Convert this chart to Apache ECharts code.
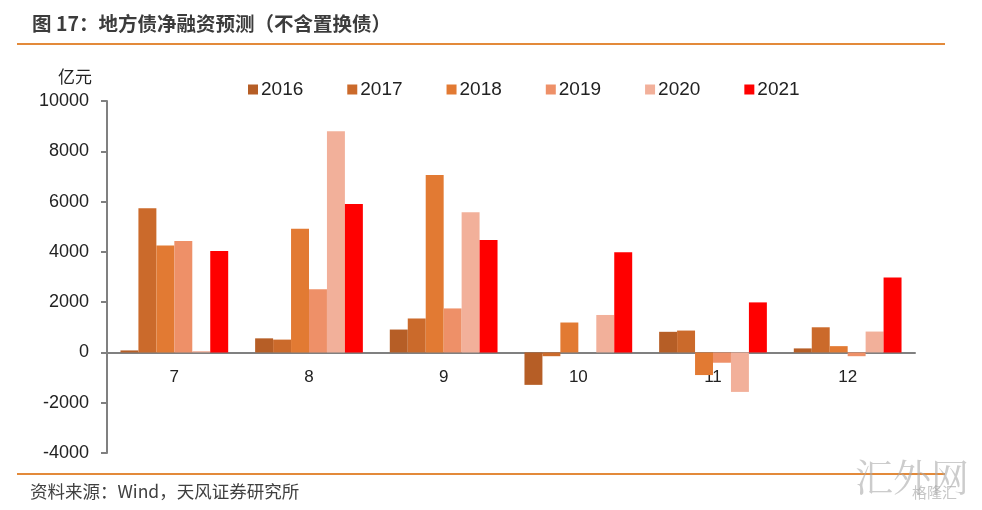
<!DOCTYPE html>
<html>
<head>
<meta charset="utf-8">
<script src="https://cdn.jsdelivr.net/npm/echarts@6/dist/echarts.min.js"></script>
<style>html,body{margin:0;padding:0;background:#fff;}#c{width:982px;height:510px;}</style>
</head>
<body>
<div id="c"></div>
<script>
const categories = ['7', '8', '9', '10', '11', '12'];
const years = ['2016', '2017', '2018', '2019', '2020', '2021'];
const v2016 = [80, 560, 910, -1290, 820, 160];
const v2017 = [5730, 510, 1350, -150, 870, 1000];
const v2018 = [4250, 4920, 7060, 1190, -900, 250];
const v2019 = [4430, 2510, 1750, 0, -410, -150];
const v2020 = [50, 8800, 5580, 1490, -1570, 830];
const v2021 = [4030, 5900, 4470, 3980, 1990, 2980];
const yTicks = [-4000, -2000, 0, 2000, 4000, 6000, 8000, 10000];
const seriesValues = [v2016, v2017, v2018, v2019, v2020, v2021];
const colors = ['#B65E26', '#CB6A2B', '#E27A33', '#EE9068', '#F2B09A', '#FF0000'];

const chart = echarts.init(document.getElementById('c'));
const textFont = 'Liberation Sans, Arial, sans-serif';
const cjkFont = '"Noto Sans CJK SC", sans-serif';
const gridTop = 101, gridBottom = 57, chartH = 510;
const plotH = chartH - gridTop - gridBottom;
const zeroOffset = -plotH * (0 - yTicks[0]) / (yTicks[yTicks.length - 1] - yTicks[0]);
chart.setOption({
  animation: false,
  backgroundColor: '#fff',
  color: colors,
  grid: { left: 107, right: 67, top: gridTop, bottom: gridBottom, containLabel: false },
  legend: {
    data: years,
    left: 243, top: 75,
    itemWidth: 10, itemHeight: 10, itemGap: 44,
    icon: 'rect',
    textStyle: { fontSize: 19, color: '#222', fontFamily: textFont, padding: [0, 0, 0, -2] }
  },
  xAxis: {
    type: 'category',
    data: categories,
    position: 'bottom',
    offset: zeroOffset,
    axisLine: { onZero: false, lineStyle: { color: '#808080', width: 2 } },
    axisTick: { show: false },
    axisLabel: { fontSize: 17, color: '#222', fontFamily: textFont, margin: 16 }
  },
  yAxis: {
    type: 'value',
    min: yTicks[0], max: yTicks[yTicks.length - 1], interval: 2000,
    axisLine: { show: true, lineStyle: { color: '#808080', width: 2 } },
    axisTick: { show: true, length: 6, lineStyle: { color: '#808080', width: 2 } },
    splitLine: { show: false },
    axisLabel: { fontSize: 18, color: '#222', fontFamily: textFont, margin: 18, formatter: v => String(v) }
  },
  series: years.map((y, i) => ({
    name: y,
    type: 'bar',
    data: seriesValues[i],
    barGap: '0%',
    barCategoryGap: '20%',
    itemStyle: { color: colors[i] }
  })),
  graphic: [
    { type: 'text', left: 32, top: 14, style: { text: '图 17：地方债净融资预测（不含置换债）', font: 'bold 19.5px ' + cjkFont, fill: '#3c3c3c' } },
    { type: 'line', shape: { x1: 17, y1: 44, x2: 945, y2: 44 }, style: { stroke: '#E38A3A', lineWidth: 2 } },
    { type: 'text', left: 58, top: 68, style: { text: '亿元', font: '17px ' + cjkFont, fill: '#222' } },
    { type: 'line', shape: { x1: 17, y1: 474, x2: 945, y2: 474 }, style: { stroke: '#E38A3A', lineWidth: 2 } },
    { type: 'text', left: 30, top: 483, style: { text: '资料来源：Wind，天风证券研究所', font: '17.5px ' + cjkFont, fill: '#404040' } },
    { type: 'text', left: 855, top: 458, style: { text: '汇外网', font: '38px "Noto Serif CJK SC", ' + cjkFont, fill: 'rgba(170,170,170,0.6)' } },
    { type: 'text', left: 912, top: 485, style: { text: '格隆汇', font: '15px ' + cjkFont, fill: 'rgba(160,160,160,0.6)' } }
  ]
});
</script>
</body>
</html>
